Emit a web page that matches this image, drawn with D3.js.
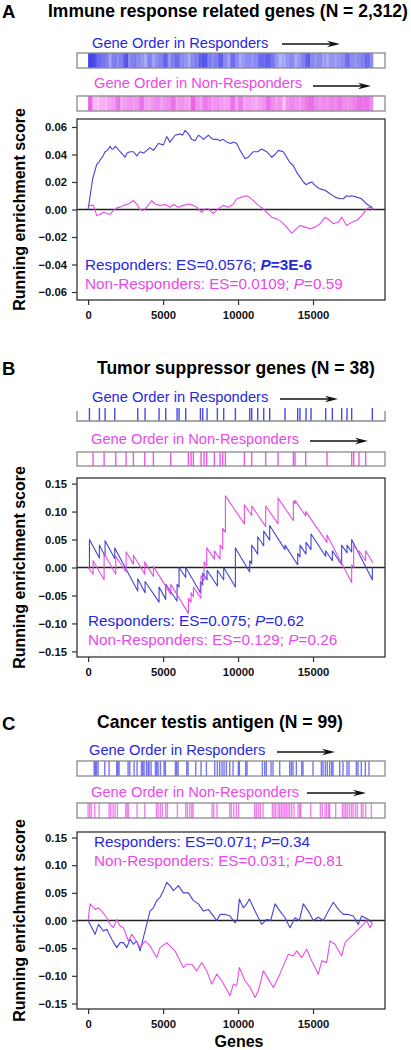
<!DOCTYPE html>
<html><head><meta charset="utf-8">
<script src="https://cdn.jsdelivr.net/npm/d3@7"></script>
<style>body{margin:0;background:#fff}svg{display:block}text{font-family:"Liberation Sans",Arial,Helvetica,sans-serif}</style>
</head><body><svg id="c" width="411" height="1050"></svg>
<script>
// ---------------- DATA ----------------
const nGenes = 19000;
const xTickValues = [0, 5000, 10000, 15000];
const yTicksA = [-0.06, -0.04, -0.02, 0.00, 0.02, 0.04, 0.06];
const yTicksB = [-0.15, -0.10, -0.05, 0.00, 0.05, 0.10, 0.15];
const yTicksC = [-0.15, -0.10, -0.05, 0.00, 0.05, 0.10, 0.15];
const panelLetters = ["A", "B", "C"];
const panelTitles = ["Immune response related genes (N = 2,312)", "Tumor suppressor genes (N = 38)", "Cancer testis antigen (N = 99)"];
const barcodeLabels = ["Gene Order in Responders", "Gene Order in Non-Responders"];
const groupNames = ["Responders", "Non-Responders"];
const esA = ["0.0576", "0.0109"], pA = ["3E-6", "0.59"];
const esB = ["0.075", "0.129"], pB = ["0.62", "0.26"];
const esC = ["0.071", "0.031"], pC = ["0.34", "0.81"];

// Panel A barcode: hit density per gene-rank bin (72 equal bins over the ranked list)
const respDensityA = [0.9,0.85,0.7,0.65,0.6,0.45,0.6,0.55,0.6,0.8,0.55,0.6,0.55,0.5,0.4,0.6,0.45,0.55,0.6,0.75,0.5,0.6,0.7,0.55,0.5,0.4,0.55,0.6,0.75,0.8,0.6,0.55,0.6,0.75,0.55,0.45,0.7,0.55,0.4,0.5,0.55,0.5,0.55,0.7,0.7,0.75,0.65,0.5,0.35,0.4,0.5,0.55,0.4,0.5,0.6,0.75,0.55,0.5,0.55,0.45,0.4,0.5,0.45,0.5,0.55,0.7,0.55,0.5,0.55,0.6,0.7,0.55];
const nonRespDensityA = [0.8,0.35,0.3,0.4,0.35,0.45,0.5,0.7,0.45,0.5,0.55,0.5,0.55,0.75,0.5,0.45,0.55,0.6,0.5,0.55,0.6,0.75,0.5,0.55,0.5,0.45,0.8,0.55,0.5,0.7,0.6,0.5,0.55,0.5,0.45,0.5,0.75,0.5,0.7,0.45,0.5,0.45,0.4,0.5,0.55,0.75,0.6,0.5,0.55,0.3,0.55,0.6,0.55,0.5,0.6,0.7,0.75,0.6,0.55,0.6,0.55,0.65,0.6,0.7,0.6,0.55,0.6,0.65,0.75,0.7,0.75,0.6];

// Panel B / C barcodes: gene-rank positions of set members
const respHitsB = [89,753,1133,1778,3311,3800,4733,5178,5933,6067,6511,7489,7644,7933,8622,9044,9822,10778,10911,11311,11711,12111,13133,13978,14133,14533,14867,15844,16289,16911,17267,17578,18956];
const nonRespHitsB = [333,1067,1844,2533,3022,3778,4356,5511,6689,6867,7022,7533,7733,7911,8422,8800,8978,9156,10422,10911,11844,12667,13689,13800,14511,15933,17578,17711,18067,18511];
const respHitsC = [400,489,556,667,1111,1400,1911,1978,2067,2667,2778,3067,3267,3556,3644,3733,3889,4000,4067,4200,4489,4578,4667,4822,5067,5156,5822,5911,6000,6578,6667,7178,7533,7889,8444,8622,8778,8933,9067,9222,9444,9667,10022,10089,10511,10600,11622,11778,11889,12200,12333,12778,13444,13556,13667,13889,14244,14333,15000,15556,15667,15822,15956,16111,16244,16333,16778,17000,17267,17400,17889,18000,18222,18489,18733];
const nonRespHitsC = [0,111,222,444,733,1400,1511,1667,1800,1956,2511,2600,2689,3267,3778,4556,4667,4822,4956,5178,5289,5956,6511,6622,6778,6911,7000,8267,8378,8600,9444,9556,9711,9889,10044,11111,11222,11356,11489,11667,12289,12400,12511,12667,12778,12889,13000,13111,13222,13333,13444,13578,13733,14000,14111,14178,14844,15489,15622,15800,15911,16044,16111,16511,16956,17067,17178,17289,17422,17556,17667,17822,17956,18222,18333,18511,18889];

// Running enrichment score curves: [gene rank, score]
const respLineA = [[0,0],[89,0.0065],[300,0.022],[578,0.033],[700,0.034],[800,0.036],[1000,0.039],[1133,0.042],[1300,0.043],[1467,0.046],[1580,0.044],[1689,0.044],[1800,0.046],[1911,0.045],[2133,0.042],[2300,0.040],[2466,0.038],[2600,0.041],[2800,0.042],[3022,0.042],[3244,0.039],[3467,0.042],[3700,0.041],[3911,0.043],[4133,0.045],[4355,0.043],[4500,0.045],[4689,0.048],[5022,0.047],[5244,0.053],[5466,0.049],[5800,0.054],[6133,0.055],[6300,0.054],[6466,0.0575],[6689,0.055],[6911,0.051],[7133,0.050],[7355,0.054],[7500,0.053],[7689,0.051],[8022,0.054],[8200,0.052],[8355,0.051],[8600,0.051],[8800,0.050],[9000,0.051],[9244,0.049],[9500,0.048],[9688,0.049],[9911,0.048],[10133,0.043],[10300,0.040],[10466,0.037],[10688,0.038],[11022,0.042],[11300,0.042],[11577,0.044],[11911,0.042],[12244,0.038],[12466,0.040],[12688,0.043],[13022,0.042],[13244,0.038],[13466,0.034],[13688,0.032],[13911,0.027],[14133,0.0235],[14355,0.020],[14550,0.018],[14688,0.019],[14911,0.020],[15133,0.0175],[15300,0.016],[15466,0.015],[15800,0.014],[16133,0.0114],[16466,0.009],[16800,0.0078],[17022,0.0078],[17244,0.010],[17400,0.0095],[17577,0.010],[17910,0.009],[18244,0.0078],[18577,0.004],[18910,0.0017],[19000,0.0005]];
const nonRespLineA = [[0,0.0017],[133,0.003],[355,0.003],[578,-0.0044],[800,-0.0036],[1022,-0.002],[1244,-0.0027],[1467,-0.0036],[1689,-0.0007],[1911,0.0012],[2133,0.0017],[2355,0.003],[2689,0.004],[3022,0.0065],[3244,0.004],[3467,0.0],[3689,-0.0007],[3911,0.0017],[4244,0.0065],[4466,0.004],[4800,0.003],[5133,0.0036],[5466,0.0017],[5689,0.0036],[6022,0.0017],[6355,0.003],[6689,0.004],[7022,0.003],[7244,0.0017],[7577,-0.002],[7800,0.0005],[8022,0.0005],[8355,-0.003],[8689,0.0005],[9022,0.003],[9355,0.0017],[9688,0.004],[9911,0.0078],[10244,0.009],[10577,0.010],[10800,0.0085],[11022,0.0065],[11355,0.003],[11689,0.0005],[11911,-0.002],[12244,-0.0056],[12577,-0.0068],[12911,-0.0092],[13244,-0.0128],[13577,-0.0172],[13800,-0.015],[14133,-0.0116],[14466,-0.0128],[14800,-0.014],[15133,-0.0128],[15466,-0.0104],[15800,-0.0056],[16133,-0.008],[16355,-0.0104],[16689,-0.0092],[16911,-0.0056],[17244,-0.0116],[17577,-0.0092],[17911,-0.008],[18244,-0.0044],[18577,0.0005],[18800,0.0017],[19000,0.0]];
const respLineB = [[0,0],[89,0],[89,0.05],[753,0.017],[753,0.04],[1133,0.02],[1133,0.048],[1778,0.016],[1778,0.035],[3311,-0.042],[3311,-0.02],[3800,-0.045],[3800,-0.025],[4733,-0.062],[4733,-0.035],[5178,-0.057],[5178,-0.03],[5933,-0.06],[5933,-0.03],[6067,-0.035],[6067,0.0],[6511,-0.018],[6511,0.0],[7489,-0.045],[7489,-0.025],[7644,-0.031],[7644,-0.01],[7933,-0.022],[7933,-0.005],[8622,-0.033],[8622,-0.005],[9044,-0.022],[9044,0.0],[9822,-0.035],[9822,0.035],[10778,-0.008],[10778,0.012],[10911,0.007],[10911,0.04],[11311,0.024],[11311,0.055],[11711,0.039],[11711,0.065],[12111,0.049],[12111,0.075],[13133,0.032],[13133,0.04],[13978,0.005],[13978,0.025],[14133,0.019],[14133,0.04],[14533,0.024],[14533,0.045],[14867,0.032],[14867,0.06],[15844,0.02],[15844,0.03],[16289,0.012],[16289,0.03],[16911,0.005],[16911,0.04],[17267,0.026],[17267,0.04],[17578,0.028],[17578,0.05],[18956,-0.022],[18956,0.0]];
const nonRespLineB = [[0,0],[333,-0.012],[333,0.012],[1067,-0.022],[1067,0.025],[1844,-0.012],[1844,0.02],[2533,-0.008],[2533,0.028],[3022,0.006],[3022,0.022],[3778,-0.012],[3778,0.01],[4356,-0.016],[4356,0.002],[5511,-0.048],[5511,-0.03],[6689,-0.082],[6689,-0.055],[6867,-0.062],[6867,-0.045],[7022,-0.052],[7022,-0.035],[7533,-0.055],[7533,-0.015],[7733,-0.023],[7733,0.01],[7911,0.003],[7911,0.035],[8422,0.015],[8422,0.03],[8800,0.015],[8800,0.04],[8978,0.033],[8978,0.07],[9156,0.063],[9156,0.128],[10422,0.078],[10422,0.112],[10911,0.093],[10911,0.11],[11844,0.073],[11844,0.11],[12667,0.078],[12667,0.124],[13689,0.084],[13689,0.119],[13800,0.114],[13800,0.12],[14511,0.092],[14511,0.1],[15933,0.045],[15933,0.058],[17578,-0.027],[17578,0.005],[17711,0.0],[17711,0.04],[18067,0.026],[18067,0.03],[18511,0.012],[18511,0.03],[19000,0.008]];
const respLineC = [[0,0],[467,-0.025],[689,-0.007],[1022,-0.019],[1244,-0.016],[1578,-0.034],[1911,-0.049],[2133,-0.040],[2355,-0.040],[2577,-0.049],[2800,-0.034],[3022,-0.043],[3244,-0.037],[3467,-0.055],[3689,-0.031],[3911,-0.0066],[4133,0.017],[4355,0.023],[4577,0.036],[4800,0.042],[5022,0.054],[5244,0.069],[5466,0.063],[5689,0.054],[6022,0.063],[6355,0.050],[6689,0.050],[7022,0.036],[7355,0.030],[7689,0.017],[8022,0.020],[8355,0.008],[8577,0.0],[8800,0.011],[9133,0.011],[9466,0.008],[9800,-0.004],[9955,0.002],[10088,0.039],[10355,0.023],[10577,0.030],[10755,0.039],[11133,0.017],[11577,-0.007],[11911,0.002],[12177,0.0],[12466,0.030],[12800,0.017],[13133,0.005],[13466,-0.013],[13800,0.005],[14088,0.0],[14355,0.030],[14688,0.017],[15022,0.0],[15355,0.006],[15688,0.0],[16022,0.017],[16355,0.033],[16689,0.020],[17022,0.011],[17355,0.011],[17689,0.008],[18022,-0.007],[18244,0.008],[18466,0.005],[18689,0.002],[18911,-0.004]];
const nonRespLineC = [[0,0.0],[133,0.03],[467,0.02],[689,0.023],[911,0.017],[1244,0.005],[1467,-0.007],[1689,-0.013],[1911,0.002],[2133,-0.010],[2355,-0.013],[2689,-0.037],[2911,-0.025],[3133,-0.034],[3467,-0.049],[3800,-0.037],[4133,-0.046],[4577,-0.067],[4800,-0.049],[5244,-0.040],[5577,-0.049],[5800,-0.055],[6355,-0.085],[6577,-0.079],[6911,-0.079],[7244,-0.091],[7577,-0.076],[7911,-0.091],[8244,-0.115],[8577,-0.097],[8911,-0.109],[9466,-0.136],[9688,-0.115],[9911,-0.118],[10088,-0.085],[10466,-0.109],[10800,-0.121],[11133,-0.139],[11355,-0.127],[11689,-0.091],[12022,-0.106],[12355,-0.121],[12689,-0.103],[13022,-0.082],[13355,-0.061],[13689,-0.064],[13911,-0.055],[14244,-0.067],[14577,-0.052],[14911,-0.073],[15355,-0.097],[15577,-0.073],[15911,-0.076],[16133,-0.037],[16466,-0.043],[16911,-0.064],[17133,-0.040],[17466,-0.031],[17689,-0.025],[18022,-0.016],[18355,-0.007],[18577,0.0],[18800,-0.013],[18978,-0.004]];

// ---------------- STYLE / LAYOUT ----------------
const BLUE_TXT = "#2727e0", PINK_TXT = "#ea48ea";
const BLUE_LINE = "#4343d6", PINK_LINE = "#e64de6";
const BLUE_BAR = "#1c1ce4", PINK_BAR = "#e42ee4";
const FONT_BOLD = "bold";

const panels = [
  { letterY: 18, titleX: 48, titleY: 17, titleW: 360,
    labY: [48, 88], labX: [92, 94], arrow: [[282, 340, 44], [313, 371, 86]],
    box: [[53, 68], [96, 111]], plot: [119, 300], yMax: 0.0658, yTicks: yTicksA,
    legX: 85, legY: [270, 289], es: esA, p: pA,
    bars: { type: "density", data: [respDensityA, nonRespDensityA] },
    lines: [respLineA, nonRespLineA], openTopFirst: false },
  { letterY: 375, titleX: 97, titleY: 374, titleW: 278,
    labY: [402, 444], labX: [92, 91], arrow: [[280, 338, 399], [310, 368, 441]],
    box: [[408, 421], [452, 466]], plot: [478, 657], yMax: 0.16, yTicks: yTicksB,
    legX: 88, legY: [626, 645], es: esB, p: pB,
    bars: { type: "hits", data: [respHitsB, nonRespHitsB], op: 0.8 },
    lines: [respLineB, nonRespLineB], openTopFirst: true },
  { letterY: 730, titleX: 97, titleY: 728, titleW: 246,
    labY: [755, 797], labX: [89, 91], arrow: [[277, 335, 752], [307, 366, 793]],
    box: [[761, 776], [803, 818]], plot: [832, 1009], yMax: 0.16, yTicks: yTicksC,
    legX: 94, legY: [847, 866], es: esC, p: pC,
    bars: { type: "hits", data: [respHitsC, nonRespHitsC], op: 0.6 },
    lines: [respLineC, nonRespLineC], openTopFirst: false }
];
const plotLeft = 77, plotRight = 385;

const svg = d3.select("#c");
const x = d3.scaleLinear().domain([-740, 19800]).range([plotLeft, plotRight]);

function fitText(sel, target) {
  const w = sel.node().getComputedTextLength();
  const fs = parseFloat(sel.attr("font-size"));
  sel.attr("font-size", fs * target / w);
}

function arrow(g, x1, x2, y) {
  g.append("line").attr("x1", x1).attr("x2", x2 - 6).attr("y1", y).attr("y2", y)
    .attr("stroke", "#111").attr("stroke-width", 1.6);
  g.append("path").attr("d", `M${x2},${y} L${x2 - 13},${y - 3.2} L${x2 - 9},${y} L${x2 - 13},${y + 3.2} Z`)
    .attr("fill", "#111");
}

panels.forEach((P, pi) => {
  const g = svg.append("g");
  // letter + title
  g.append("text").attr("x", 2).attr("y", P.letterY).attr("font-size", 18.5)
    .attr("font-weight", FONT_BOLD).text(panelLetters[pi]);
  const tt = g.append("text").attr("x", P.titleX).attr("y", P.titleY).attr("font-size", 17.5)
    .attr("font-weight", FONT_BOLD).text(panelTitles[pi]);
  fitText(tt, P.titleW);

  // barcodes
  [0, 1].forEach(k => {
    const col = k === 0 ? BLUE_TXT : PINK_TXT;
    const barCol = k === 0 ? BLUE_BAR : PINK_BAR;
    g.append("text").attr("x", P.labX[k]).attr("y", P.labY[k]).attr("font-size", 14.7)
      .attr("fill", col).text(barcodeLabels[k]);
    arrow(g, P.arrow[k][0], P.arrow[k][1], P.arrow[k][2]);
    const [b0, b1] = P.box[k];
    if (P.bars.type === "density") {
      const arr = P.bars.data[k];
      const step = nGenes / arr.length;
      g.append("g").selectAll("rect").data(arr).join("rect")
        .attr("x", (d, i) => x(i * step))
        .attr("width", (d, i) => x((i + 1) * step) - x(i * step) + 0.3)
        .attr("y", b0).attr("height", b1 - b0)
        .attr("fill", barCol).attr("fill-opacity", d => d * 0.92);
    } else {
      g.append("g").selectAll("line").data(P.bars.data[k]).join("line")
        .attr("x1", d => x(d)).attr("x2", d => x(d))
        .attr("y1", b0).attr("y2", b1)
        .attr("stroke", barCol).attr("stroke-width", 1.4).attr("stroke-opacity", P.bars.op);
    }
    if (P.openTopFirst && k === 0) {
      g.append("path").attr("d", `M${plotLeft},${b0 + 3} V${b1} H${plotRight} V${b0 + 3}`)
        .attr("fill", "none").attr("stroke", "#8a8a8a").attr("stroke-width", 1.3);
    } else {
      g.append("rect").attr("x", plotLeft).attr("y", b0).attr("width", plotRight - plotLeft)
        .attr("height", b1 - b0).attr("fill", "none").attr("stroke", "#8a8a8a").attr("stroke-width", 1.3);
    }
  });

  // plot
  const [pt, pb] = P.plot;
  const y = d3.scaleLinear().domain([-P.yMax, P.yMax]).range([pb, pt]);
  // zero line
  g.append("line").attr("x1", plotLeft).attr("x2", plotRight).attr("y1", y(0)).attr("y2", y(0))
    .attr("stroke", "#222").attr("stroke-width", 1.3);
  const line = d3.line().x(d => x(d[0])).y(d => y(d[1]));
  [0, 1].forEach(k => {
    g.append("path").datum(P.lines[k]).attr("d", line).attr("fill", "none")
      .attr("stroke", k === 0 ? BLUE_LINE : PINK_LINE).attr("stroke-width", 1.1)
      .attr("stroke-linejoin", "round");
  });
  // frame
  g.append("rect").attr("x", plotLeft).attr("y", pt).attr("width", plotRight - plotLeft)
    .attr("height", pb - pt).attr("fill", "none").attr("stroke", "#333").attr("stroke-width", 1.3);
  // axes
  const ya = d3.axisLeft(y).tickValues(P.yTicks).tickFormat(d3.format(".2f")).tickSize(5).tickPadding(4);
  const yg = g.append("g").attr("transform", `translate(${plotLeft},0)`).call(ya);
  const xa = d3.axisBottom(x).tickValues(xTickValues).tickFormat(d3.format("d")).tickSize(5).tickPadding(4);
  const xg = g.append("g").attr("transform", `translate(0,${pb})`).call(xa);
  [yg, xg].forEach(a => {
    a.select(".domain").remove();
    a.selectAll(".tick line").attr("stroke", "#333").attr("stroke-width", 1.2);
    a.selectAll(".tick text").attr("font-size", 11.3).attr("font-weight", FONT_BOLD)
      .attr("fill", "#111").attr("font-family", '"Liberation Sans",Arial,sans-serif');
  });
  yg.selectAll(".tick text").attr("x", -10);
  xg.selectAll(".tick text").attr("dy", "0.9em");
  // y title
  g.append("text").attr("transform", `translate(25,${(pt + pb) / 2}) rotate(-90)`)
    .attr("text-anchor", "middle").attr("font-size", 16).attr("font-weight", FONT_BOLD)
    .text("Running enrichment score");
  // legend
  [0, 1].forEach(k => {
    const sig = Number(P.p[k]) < 0.05;
    const t = g.append("text").attr("x", P.legX).attr("y", P.legY[k]).attr("font-size", 15.3)
      .attr("fill", k === 0 ? BLUE_TXT : PINK_TXT);
    t.append("tspan").text(`${groupNames[k]}: ES=${P.es[k]}; `);
    t.append("tspan").attr("font-style", "italic").attr("font-weight", sig ? "bold" : null).text("P");
    t.append("tspan").attr("font-weight", sig ? "bold" : null).text("=" + P.p[k]);
  });
});

svg.append("text").attr("x", 239).attr("y", 1047).attr("text-anchor", "middle")
  .attr("font-size", 16).attr("font-weight", FONT_BOLD).text("Genes");
</script></body></html>
